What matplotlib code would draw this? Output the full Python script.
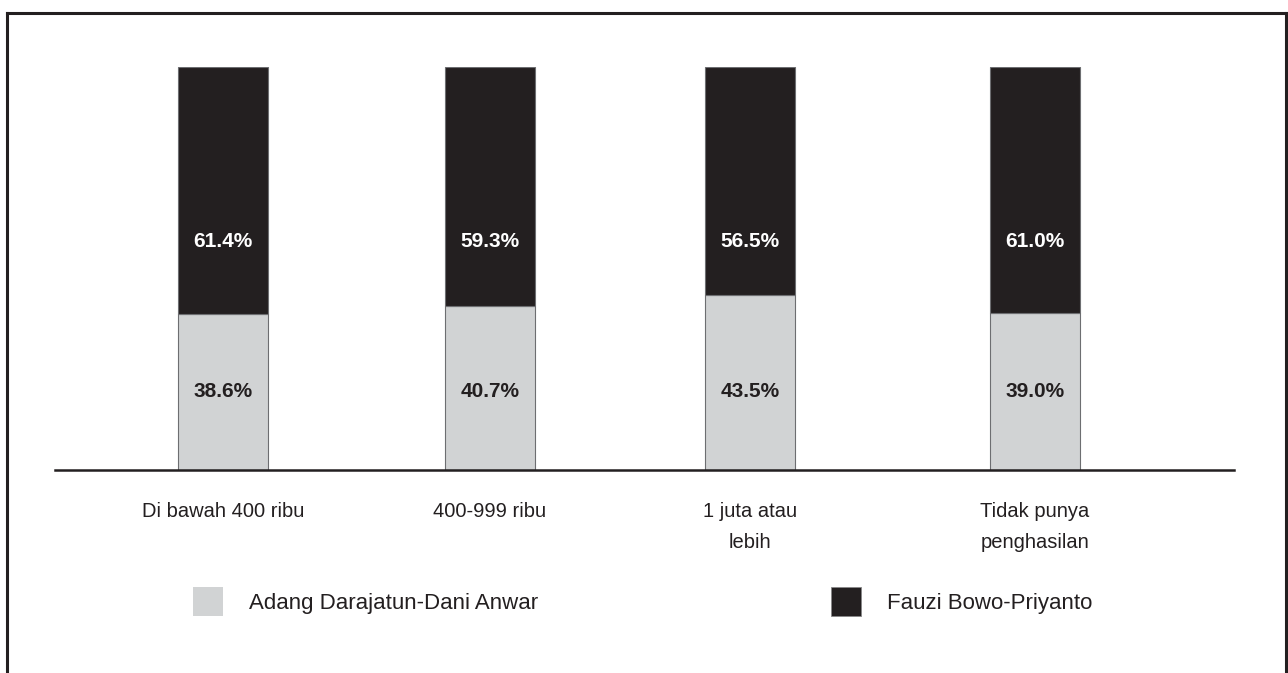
import matplotlib.pyplot as plt
from matplotlib.lines import Line2D
from matplotlib.patches import Patch

plt.rcParams['font.family'] = ['Liberation Sans', 'DejaVu Sans']

# data
categories = ['Di bawah 400 ribu', '400-999 ribu', '1 juta atau\nlebih', 'Tidak punya\npenghasilan']
adang = [38.6, 40.7, 43.5, 39.0]
fauzi = [61.4, 59.3, 56.5, 61.0]
series_names = ['Adang Darajatun-Dani Anwar', 'Fauzi Bowo-Priyanto']

grey = '#d1d3d4'
black = '#231f20'
W, H = 1288, 673

fig = plt.figure(figsize=(W / 100, H / 100), dpi=100)
# axes box in pixels: x 55..1234, y 67..470
ax = fig.add_axes([55 / W, (H - 470) / H, (1234 - 55) / W, (470 - 67) / H])

xpos = [0.0, 0.986, 1.947, 3.0]
bw = 0.333
ax.bar(xpos, adang, bw, color=grey, edgecolor='#6d6e71', linewidth=0.8)
ax.bar(xpos, fauzi, bw, bottom=adang, color=black, edgecolor='#6d6e71', linewidth=0.8)

for x, a, f in zip(xpos, adang, fauzi):
    ax.text(x, 19.5, f'{a:.1f}%', ha='center', va='center', fontsize=15,
            fontweight='bold', color=black)
    ax.text(x, 56.6, f'{f:.1f}%', ha='center', va='center', fontsize=15,
            fontweight='bold', color='white')

ax.set_xlim(-0.621, 3.735)
ax.set_ylim(0, 100)
ax.set_yticks([])
ax.set_xticks(xpos, categories, fontsize=14.5, color=black, linespacing=1.8)
ax.tick_params(axis='x', length=0, pad=23)
for s in ['left', 'right', 'top']:
    ax.spines[s].set_visible(False)
ax.spines['bottom'].set_linewidth(1.8)
ax.spines['bottom'].set_color(black)
ax.patch.set_alpha(0)

# legend
handles = [Patch(facecolor=grey, edgecolor='none'), Patch(facecolor=black, edgecolor='#888888', linewidth=0.6)]
fig.legend(handles, series_names, loc='upper left', bbox_to_anchor=(193 / W, 1 - 587 / H),
           ncol=2, frameon=False, fontsize=16, handlelength=1.35, handleheight=1.6,
           handletextpad=1.15, columnspacing=13.2, borderpad=0, borderaxespad=0,
           labelcolor=black)

# frame (open at bottom)
lw = 2.2
fig.add_artist(Line2D([7 / W, 7 / W], [0, 1 - 13 / H], color=black, lw=lw))
fig.add_artist(Line2D([7 / W, 1286 / W], [1 - 13 / H, 1 - 13 / H], color=black, lw=lw))
fig.add_artist(Line2D([1286 / W, 1286 / W], [0, 1 - 13 / H], color=black, lw=lw))

fig.savefig('out.png', dpi=100)
